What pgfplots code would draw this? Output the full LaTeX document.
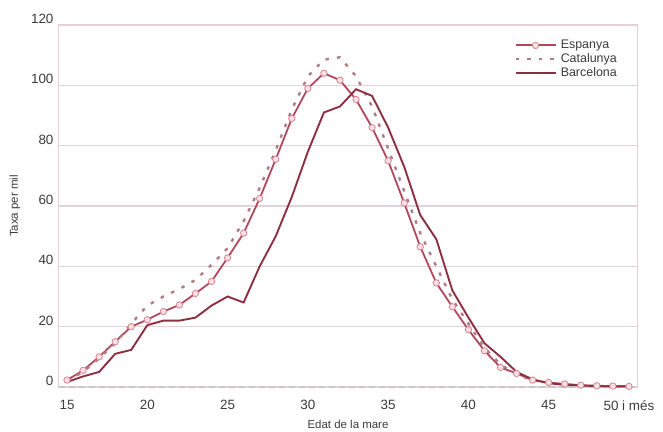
\documentclass[border=0pt]{standalone}
\usepackage{pgfplots}
\pgfplotsset{compat=1.18}
\usepackage{pgfplotstable}
\usepackage{fontspec}
\setmainfont{Liberation Sans}
\definecolor{esp}{RGB}{178,72,92}
\definecolor{espm}{RGB}{215,130,145}
\definecolor{espfill}{RGB}{248,225,228}
\definecolor{cat}{RGB}{176,125,135}
\definecolor{bcn}{RGB}{140,48,66}
\definecolor{gridc}{RGB}{228,212,216}
\definecolor{framec}{RGB}{232,205,212}
\definecolor{txt}{RGB}{60,60,60}
\pgfplotstableread{
x y
15 2.3
16 5.5
17 10
18 15
19 20
20 22.3
21 25
22 27.2
23 31
24 35
25 42.8
26 51
27 62.5
28 75.5
29 89
30 99
31 104
32 101.7
33 95.3
34 86
35 75
36 61
37 46.5
38 34.5
39 26.6
40 19
41 12
42 6.5
43 4.5
44 2.3
45 1.5
46 1
47 0.6
48 0.4
49 0.3
50 0.2
}\espanya
\pgfplotstableread{
x y
15 2
16 5
17 9.5
18 14.5
19 21
20 27
21 30
22 32.5
23 35.5
24 40.5
25 46
26 55
27 66
28 78.5
29 92
30 103
31 108.5
32 109.3
33 103
34 93
35 79
36 65
37 51
38 40
39 29
40 21
41 13
42 7.5
43 4
44 2.3
45 1.3
46 0.8
47 0.5
48 0.3
49 0.2
50 0.2
}\catalunya
\pgfplotstableread{
x y
15 1.7
16 3.5
17 5
18 11
19 12.3
20 20.5
21 22
22 22
23 23
24 27
25 30
26 28
27 40
28 50
29 63
30 78
31 91
32 93
33 98.7
34 96.5
35 86
36 73
37 57
38 49
39 32
40 23
41 14.5
42 10
43 5
44 2.5
45 1.2
46 0.8
47 0.5
48 0.3
49 0.2
50 0.2
}\barcelona
\begin{document}
\begin{tikzpicture}
\useasboundingbox (-59bp,-45bp) rectangle (604bp,387bp);
\begin{axis}[
  scale only axis,
  width=578bp, height=362bp,
  xmin=14.5, xmax=50.5,
  ymin=0, ymax=120,
  xtick={15,20,25,30,35,40,45,50},
  xticklabels={15,20,25,30,35,40,45,50 i més},
  ytick={0,20,40,60,80,100,120},
  ymajorgrids,
  grid style={gridc, line width=1.2bp},
  axis line style={framec, line width=1bp},
  major tick length=0pt,
  tick label style={font=\fontsize{13.5}{14}\selectfont, text=txt},
  /pgf/number format/assume math mode=true,
  yticklabel style={yshift=6bp, xshift=-2bp},
  xticklabel style={yshift=-10bp},
  xlabel={Edat de la mare},
  ylabel={Taxa per mil},
  label style={font=\fontsize{11.5}{13}\selectfont, text=txt},
  xlabel style={yshift=-3bp},
  ylabel style={yshift=4bp},
  extra y ticks={0},
  extra y tick labels={},
  extra y tick style={grid style={gray!45, line width=1.2bp, dash pattern=on 6bp off 4bp}},
  legend style={draw=none, fill=none, at={(0.784,0.965)}, anchor=north west,
    font=\fontsize{12.5}{13}\selectfont, text=txt, row sep=2.5bp, inner sep=2bp,
    nodes={inner xsep=4bp, inner ysep=0.5bp}},
  legend cell align=left,
  legend image code/.code={\draw[mark repeat=2,mark phase=2,#1] plot coordinates {(0bp,0bp) (20bp,0bp) (40bp,0bp)};},
]
\addplot[esp, line width=1.8bp, mark=*, mark size=3.2bp, mark options={draw=espm, fill=espfill, line width=0.8bp}] table[x=x,y=y]{\espanya};
\addlegendentry{Espanya}
\addplot[cat, line width=2.4bp, dash pattern=on 3.5bp off 8bp] table[x=x,y=y]{\catalunya};
\addlegendentry{Catalunya}
\addplot[bcn, line width=1.9bp] table[x=x,y=y]{\barcelona};
\addlegendentry{Barcelona}
\end{axis}
\end{tikzpicture}
\end{document}
